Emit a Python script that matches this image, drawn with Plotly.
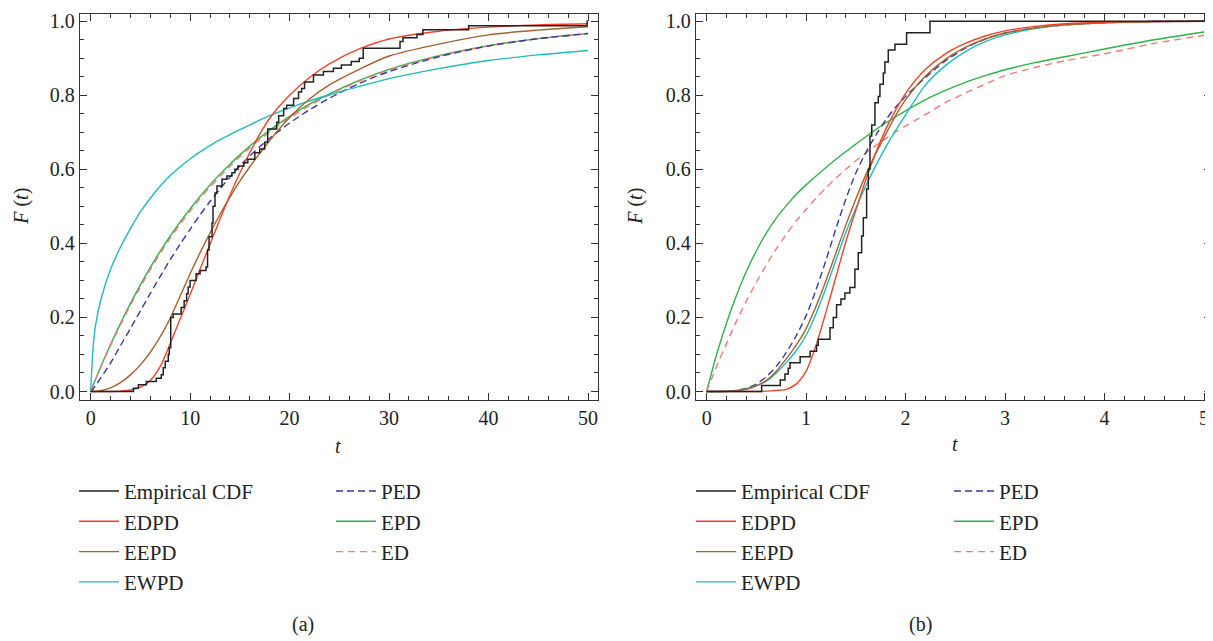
import plotly.graph_objects as go

# ---------------- panel (a) ----------------
t_a = [0, 0.25, 0.5, 1, 2, 3, 4, 5, 6, 7, 8, 9, 10, 11, 12, 13, 14, 15, 16, 17, 18,
       20, 22, 24, 27, 30, 35, 40, 45, 50]
edpd_a = [0, 0, 0, 0, 0, 0.001, 0.004, 0.012, 0.03, 0.068, 0.13, 0.196, 0.262, 0.33, 0.398,
          0.465, 0.53, 0.59, 0.645, 0.695, 0.738, 0.8, 0.848, 0.885, 0.925, 0.952, 0.973,
          0.984, 0.99, 0.993]
eepd_a = [0, 0, 0, 0.002, 0.01, 0.024, 0.045, 0.072, 0.106, 0.148, 0.198, 0.258, 0.318,
          0.375, 0.428, 0.478, 0.525, 0.568, 0.607, 0.643, 0.678, 0.74, 0.79, 0.828, 0.87,
          0.906, 0.938, 0.963, 0.976, 0.985]
ewpd_a = [0, 0.12, 0.18, 0.245, 0.33, 0.39, 0.44, 0.485, 0.522, 0.555, 0.583, 0.607, 0.628,
          0.647, 0.664, 0.68, 0.694, 0.707, 0.72, 0.733, 0.745, 0.766, 0.785, 0.801, 0.824,
          0.845, 0.872, 0.894, 0.909, 0.921]
ped_a = [0, 0.007, 0.016, 0.036, 0.077, 0.124, 0.17, 0.218, 0.265, 0.311, 0.356, 0.398,
         0.438, 0.477, 0.513, 0.547, 0.579, 0.609, 0.636, 0.661, 0.684, 0.725, 0.761, 0.792,
         0.832, 0.864, 0.904, 0.933, 0.953, 0.967]
epd_a = [0, 0.017, 0.034, 0.066, 0.127, 0.184, 0.238, 0.288, 0.335, 0.379, 0.42, 0.458,
         0.493, 0.527, 0.558, 0.587, 0.614, 0.639, 0.663, 0.685, 0.706, 0.743, 0.776, 0.804,
         0.84, 0.87, 0.907, 0.934, 0.953, 0.966]
ed_a = [0, 0.017, 0.033, 0.064, 0.124, 0.18, 0.233, 0.282, 0.329, 0.373, 0.414, 0.452,
        0.487, 0.521, 0.552, 0.581, 0.608, 0.634, 0.658, 0.68, 0.701, 0.739, 0.772, 0.801,
        0.838, 0.868, 0.906, 0.933, 0.953, 0.966]

# empirical cdf (a): jump points and level after each jump
ecdf_t_a = [0, 4.3, 4.8, 5.6, 6.6, 7.1, 7.3, 7.5, 7.8, 7.9, 8.05, 8.3, 9.1, 9.4, 9.65, 9.8,
            10.0, 10.6, 11.0, 11.6, 11.75, 11.9, 12.2, 12.3, 12.5, 12.7, 13.2, 13.7, 14.2,
            14.5, 14.8, 15.4, 15.8, 16.5, 17.0, 17.5, 17.8, 18.7, 18.9, 19.4, 19.7, 20.4,
            20.9, 21.2, 21.5, 22.4, 23.4, 24.4, 25.2, 26.2, 27.0, 27.4, 31.1, 31.4, 32.8,
            33.4, 38.0, 49.9, 50]
ecdf_f_a = [0, 0.009, 0.018, 0.027, 0.036, 0.045, 0.064, 0.082, 0.1, 0.118, 0.2, 0.209,
            0.227, 0.245, 0.264, 0.282, 0.3, 0.318, 0.327, 0.336, 0.382, 0.418, 0.455, 0.5,
            0.536, 0.555, 0.573, 0.582, 0.591, 0.6, 0.609, 0.618, 0.627, 0.645, 0.655,
            0.673, 0.709, 0.727, 0.745, 0.764, 0.773, 0.791, 0.809, 0.818, 0.836, 0.855,
            0.864, 0.873, 0.882, 0.891, 0.9, 0.927, 0.945, 0.955, 0.964, 0.977, 0.988, 1.0,
            1.0]

# ---------------- panel (b) ----------------
t_b = [0, 0.1, 0.2, 0.3, 0.4, 0.5, 0.6, 0.7, 0.8, 0.9, 1.0, 1.1, 1.2, 1.3, 1.4, 1.5, 1.6,
       1.7, 1.8, 1.9, 2.0, 2.2, 2.4, 2.6, 2.8, 3.0, 3.3, 3.6, 4.0, 4.5, 5.0]
edpd_b = [0, 0, 0, 0, 0, 0, 0.001, 0.003, 0.006, 0.02, 0.055, 0.125, 0.215, 0.31, 0.405,
          0.49, 0.572, 0.645, 0.708, 0.76, 0.805, 0.87, 0.912, 0.94, 0.96, 0.974, 0.986,
          0.993, 0.997, 0.999, 1.0]
eepd_b = [0, 0, 0, 0.002, 0.006, 0.015, 0.03, 0.055, 0.088, 0.125, 0.17, 0.23, 0.3, 0.375,
          0.45, 0.52, 0.585, 0.643, 0.695, 0.745, 0.788, 0.852, 0.897, 0.929, 0.952, 0.968,
          0.982, 0.99, 0.996, 0.999, 1.0]
ewpd_b = [0, 0, 0.001, 0.003, 0.008, 0.016, 0.028, 0.05, 0.078, 0.11, 0.152, 0.21, 0.28,
          0.355, 0.43, 0.495, 0.555, 0.61, 0.66, 0.705, 0.747, 0.828, 0.88, 0.918, 0.945,
          0.963, 0.98, 0.99, 0.996, 0.999, 1.0]
ped_b = [0, 0, 0.001, 0.003, 0.009, 0.02, 0.04, 0.068, 0.105, 0.15, 0.205, 0.275, 0.355,
         0.44, 0.52, 0.59, 0.645, 0.692, 0.733, 0.768, 0.797, 0.848, 0.893, 0.927, 0.952,
         0.968, 0.982, 0.99, 0.996, 0.999, 1.0]
epd_b = [0, 0.1, 0.185, 0.26, 0.325, 0.38, 0.428, 0.468, 0.502, 0.532, 0.558, 0.582, 0.605,
         0.627, 0.648, 0.668, 0.688, 0.707, 0.725, 0.742, 0.758, 0.788, 0.813, 0.835, 0.853,
         0.869, 0.888, 0.904, 0.925, 0.95, 0.971]
ed_b = [0, 0.068, 0.13, 0.19, 0.245, 0.295, 0.342, 0.385, 0.424, 0.46, 0.492, 0.522, 0.55,
        0.576, 0.6, 0.623, 0.644, 0.664, 0.683, 0.701, 0.717, 0.748, 0.78, 0.806, 0.83,
        0.853, 0.875, 0.893, 0.912, 0.94, 0.962]

ecdf_t_b = [0, 0.553, 0.74, 0.787, 0.82, 0.838, 0.94, 1.04, 1.105, 1.122, 1.24, 1.273,
            1.306, 1.35, 1.39, 1.44, 1.49, 1.524, 1.558, 1.575, 1.608, 1.625, 1.642, 1.66,
            1.692, 1.725, 1.742, 1.776, 1.792, 1.826, 1.893, 2.01, 2.245, 5.0]
ecdf_f_b = [0, 0.016, 0.031, 0.047, 0.063, 0.078, 0.094, 0.109, 0.125, 0.141, 0.172, 0.2,
            0.234, 0.25, 0.266, 0.281, 0.33, 0.375, 0.42, 0.469, 0.547, 0.6, 0.69, 0.72,
            0.78, 0.797, 0.83, 0.86, 0.89, 0.922, 0.938, 0.969, 1.0, 1.0]

# the page body has an 8px margin, so the figure is made smaller and
# every position below is given in window pixels and shifted back
OFF = 8
W, H = 1213 - OFF, 641 - OFF


def px(x):
    return (x - OFF) / W


def py(y):
    return 1 - (y - OFF) / H


FONT = "Liberation Serif"
AXC = "#333333"

styles = {
    "Empirical CDF": ("#222222", "solid"),
    "EDPD": ("#f0442a", "solid"),
    "EEPD": ("#a5602e", "solid"),
    "EWPD": ("#1fbcbc", "solid"),
    "PED": ("#3a3a9e", "7px,4px"),
    "EPD": ("#2eb24a", "solid"),
    "ED": ("#f27b7b", "7px,5px"),
}
rank = {"Empirical CDF": 1, "EDPD": 2, "EEPD": 3, "EWPD": 4, "PED": 1, "EPD": 2, "ED": 3}

panels = [
    ("x", "y", t_a, {"EDPD": edpd_a, "EEPD": eepd_a, "EWPD": ewpd_a, "PED": ped_a,
                     "EPD": epd_a, "ED": ed_a}, ecdf_t_a, ecdf_f_a, "legend", "legend2"),
    ("x2", "y2", t_b, {"EDPD": edpd_b, "EEPD": eepd_b, "EWPD": ewpd_b, "PED": ped_b,
                       "EPD": epd_b, "ED": ed_b}, ecdf_t_b, ecdf_f_b, "legend3", "legend4"),
]

fig = go.Figure()
for xa, ya, tt, curves, et, ef, leg1, leg2 in panels:
    for name in ["EPD", "ED", "PED", "EWPD", "EEPD", "EDPD"]:
        col, dash = styles[name]
        fig.add_trace(go.Scatter(
            x=tt, y=curves[name], mode="lines", name=name, xaxis=xa, yaxis=ya,
            line=dict(color=col, width=1.4, dash=dash, shape="spline", smoothing=0.8),
            legend=leg2 if name in ("PED", "EPD", "ED") else leg1,
            legendrank=rank[name], hoverinfo="skip"))
    fig.add_trace(go.Scatter(
        x=et, y=ef, mode="lines", name="Empirical CDF", xaxis=xa, yaxis=ya,
        line=dict(color=styles["Empirical CDF"][0], width=1.5, shape="hv"),
        legend=leg1, legendrank=1, hoverinfo="skip"))

ax_common = dict(showline=True, linecolor=AXC, linewidth=1.3, mirror="ticks",
                 ticks="inside", ticklen=7, tickwidth=1.2, tickcolor=AXC,
                 showgrid=False, zeroline=False, ticklabeloverflow="allow",
                 tickfont=dict(family=FONT, size=20, color="#222"))
ydom = [py(400), py(10)]

fig.update_layout(
    width=W, height=H, margin=dict(l=0, r=0, t=0, b=0),
    paper_bgcolor="white", plot_bgcolor="white", showlegend=True,
    xaxis=dict(domain=[px(80), px(598)], range=[-1.07, 51.0], tick0=0, dtick=10,
               minor=dict(dtick=2, ticks="inside", ticklen=4, tickcolor=AXC),
               anchor="y", **ax_common),
    yaxis=dict(domain=ydom, range=[-0.022, 1.0195], tick0=0,
               dtick=0.2, tickformat=".1f",
               minor=dict(dtick=0.05, ticks="inside", ticklen=4, tickcolor=AXC),
               anchor="x", **ax_common),
    xaxis2=dict(domain=[px(696), px(1211)], range=[-0.107, 5.07], tick0=0, dtick=1,
                minor=dict(dtick=0.2, ticks="inside", ticklen=4, tickcolor=AXC),
                anchor="y2", **ax_common),
    yaxis2=dict(domain=ydom, range=[-0.022, 1.0195], tick0=0,
                dtick=0.2, tickformat=".1f",
                minor=dict(dtick=0.05, ticks="inside", ticklen=4, tickcolor=AXC),
                anchor="x2", **ax_common),
)

leg_style = dict(orientation="v", xanchor="left", yanchor="top", bgcolor="rgba(0,0,0,0)",
                 font=dict(family=FONT, size=21, color="#222"), itemwidth=40,
                 tracegroupgap=0)
fig.update_layout(
    legend=dict(x=px(74), y=py(472), **leg_style),
    legend2=dict(x=px(331), y=py(472), **leg_style),
    legend3=dict(x=px(691), y=py(472), **leg_style),
    legend4=dict(x=px(949), y=py(472), **leg_style),
)

ann_font = dict(family=FONT, size=20, color="#222")
for txt, x, y, ang in [("<i>F</i> (<i>t</i>)", 22, 205, -90), ("<i>F</i> (<i>t</i>)", 636, 205, -90),
                       ("<i>t</i>", 338, 447, 0), ("<i>t</i>", 955, 445, 0),
                       ("(a)", 303, 627, 0), ("(b)", 920, 627, 0)]:
    fig.add_annotation(text=txt, x=px(x), y=py(y), xref="paper", yref="paper",
                       showarrow=False, textangle=ang, font=ann_font,
                       xanchor="center", yanchor="middle")

fig.write_html("out.html")
